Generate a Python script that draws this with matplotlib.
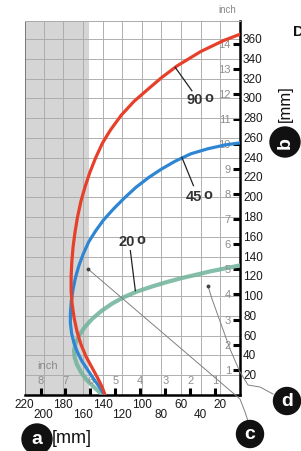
import numpy as np
import matplotlib
matplotlib.use('Agg')
import matplotlib.pyplot as plt
from matplotlib.patches import Circle
from matplotlib.lines import Line2D

plt.rcParams['font.family'] = ['Liberation Sans', 'DejaVu Sans']

# curves, x = a [mm], y = b [mm]
red_x = [0, 17, 40, 64, 80, 93, 108, 121, 132, 140, 147, 153, 158, 162, 165.5, 168, 170,
         171.3, 172, 172, 171, 169, 166, 162, 157, 151, 145, 140.5, 137.5]
red_y = [365, 358.5, 347.5, 333, 321, 310, 297, 283, 268, 255, 240, 225, 210, 196, 180, 165,
         150, 135, 120, 105, 92, 78, 64, 51, 39, 28, 17, 8, 0]

blue_x = [0, 15, 33, 50, 66, 80, 93, 106, 118, 129, 139, 147, 154, 159.5, 164, 167.5, 170,
          171.8, 172.7, 172.8, 171.5, 169, 165.5, 161, 155, 149, 144, 140, 138]
blue_y = [255, 253, 249, 244, 236.5, 228.5, 220, 210, 199, 188, 177, 166, 155, 143, 131, 119,
          107, 95, 84, 73, 62, 52, 43, 34, 25, 16, 9, 3, 0]

green_x = [0, 15, 30, 45, 60, 75, 90, 105, 118, 130, 141, 151, 158.5, 164, 167.5, 169,
           168.5, 166, 162, 156.5, 150, 144, 140]
green_y = [131, 128, 125, 121.5, 118, 114, 109.5, 104.5, 99, 92.5, 85, 76.5, 68, 60, 52, 45,
           38, 30.5, 23, 15.5, 9, 3.5, 0]

angle_labels = ['90', '45', '20']

mm_bottom_top = [220, 180, 140, 100, 60, 20]
mm_bottom_low = [200, 160, 120, 80, 40]
mm_right = list(range(20, 361, 20))
inch_bottom = [1, 2, 3, 4, 5, 6, 7, 8]
inch_right = list(range(1, 15))

W, H = 301, 452
fig = plt.figure(figsize=(W / 100, H / 100), dpi=100)
ax = fig.add_axes([25 / W, 1 - 395.8 / H, 215 / W, (395.8 - 22) / H])
ax.set_xlim(219, 0)
ax.set_ylim(0, 378.4)

# shaded zone and grid
ax.axvspan(154, 219, color='#d5d5d5', zorder=0, lw=0)
gx = np.arange(20, 220, 20)
gy = np.arange(20, 380, 20)
ax.set_xticks(gx, minor=True)
ax.set_yticks(gy, minor=True)
ax.grid(which='minor', color='#afafaf', lw=0.7)
ax.hlines(gy, 154, 219, color='#727272', lw=0.7, zorder=1)
ax.vlines([160, 180, 200], 0, 378.4, color='#727272', lw=0.7, zorder=1)

# inch ticks
ax.yaxis.tick_right()
ax.set_xticks([25.4 * i for i in inch_bottom])
ax.set_yticks([25.4 * i for i in inch_right])
ax.tick_params(which='major', direction='in', length=5, width=2.2, color='black',
               labelbottom=False, labelright=False, labelleft=False)
ax.tick_params(which='minor', length=0, labelbottom=False, labelright=False, labelleft=False)

for s in ['bottom', 'right']:
    ax.spines[s].set_linewidth(1.8)
    ax.spines[s].set_color('black')
ax.spines['top'].set_color('#aaaaaa')
ax.spines['top'].set_linewidth(0.7)
ax.spines['left'].set_color('#777777')
ax.spines['left'].set_linewidth(0.7)

# curves
ax.plot(green_x, green_y, color='#6fb39a', lw=3.0, alpha=0.85, zorder=3,
        solid_joinstyle='round')
ax.plot(blue_x, blue_y, color='#2e86d3', lw=2.3, zorder=4, solid_joinstyle='round')
ax.plot(red_x, red_y, color='#e6402b', lw=2.3, zorder=5, solid_joinstyle='round')

# angle labels with leader lines
lab_pos = [(37.6, 299.4), (38.6, 201.2), (106.6, 155.7)]
leaders = [((66.0, 49.0), (331.5, 307.8)),
           ((59.2, 47.4), (240.4, 211.7)),
           ((111.7, 106.6), (145.9, 105.4))]
for lab, (lx, ly), (lnx, lny) in zip(angle_labels, lab_pos, leaders):
    ax.plot(lnx, lny, color='#222222', lw=0.9, zorder=6)
    ax.text(lx, ly, lab, ha='right', va='center', fontsize=10.5, fontweight='bold',
            color='#333333', zorder=7)
    ax.text(lx - 1.5, ly + 2, 'o', ha='left', va='center', fontsize=10.5, fontweight='bold',
            color='#333333', zorder=7)

# inch numbers (grey)
for i in inch_bottom:
    ax.text(25.4 * i, 15, str(i), ha='center', va='center', fontsize=8, color='#8e8e8e')
for i in inch_right:
    ax.text(9.3, 25.4 * i, str(i), ha='right', va='center', fontsize=8, color='#8e8e8e')

# mm numbers
xt = ax.get_xaxis_transform()
yt = ax.get_yaxis_transform()
for v in mm_bottom_top:
    ax.text(v, (395.8 - 405) / 373.8, str(v), transform=xt, ha='center', va='center',
            fontsize=8.5, color='#1a1a1a')
for v in mm_bottom_low:
    ax.text(v, (395.8 - 415.5) / 373.8, str(v), transform=xt, ha='center', va='center',
            fontsize=8.5, color='#1a1a1a')
for v in mm_right:
    ax.text((243 - 25) / 215, v, str(v), transform=yt, ha='left', va='center',
            fontsize=8.5, color='#1a1a1a')


def px(x, y):
    return x / W, 1 - y / H


fig.text(*px(227, 10), 'inch', ha='center', va='center', fontsize=7, color='#888888')
fig.text(*px(37, 366), 'inch', ha='left', va='center', fontsize=8, color='#888888')
fig.text(*px(293, 32), 'D', ha='left', va='center', fontsize=11, fontweight='bold', color='#111111')


def badge(cx, cy, r, letter, rot=0):
    fig.add_artist(Circle((cx / 100, (H - cy) / 100), r / 100, transform=fig.dpi_scale_trans,
                          color='#111111', zorder=10))
    fig.text(*px(cx, cy), letter, ha='center', va='center', fontsize=14, fontweight='bold',
             color='white', rotation=rot, zorder=11)


# pointer lines to c and d
c_line = [(88, 270), (240, 400), (245, 413), (248, 422)]
d_line = [(208, 287), (212, 300), (230, 350), (240, 373), (248, 386), (260, 388), (273, 395)]
for pts in [c_line, d_line]:
    xs = [px(x, y)[0] for x, y in pts]
    ys = [px(x, y)[1] for x, y in pts]
    fig.add_artist(Line2D(xs, ys, transform=fig.transFigure, color='#808080', lw=0.7, zorder=8))
    fig.add_artist(Line2D([xs[0]], [ys[0]], transform=fig.transFigure, marker='o', ms=1.8,
                          color='#444444', lw=0, zorder=8))

badge(37, 440, 15, 'a')
fig.text(*px(52, 439), '[mm]', ha='left', va='center', fontsize=13, color='#111111')
badge(285, 143, 15, 'b', rot=90)
fig.text(*px(285, 104), '[mm]', ha='center', va='center', fontsize=12, color='#111111', rotation=90)
badge(250, 435, 13.5, 'c')
badge(287, 402, 13.5, 'd')

fig.savefig('out.png', dpi=100)
